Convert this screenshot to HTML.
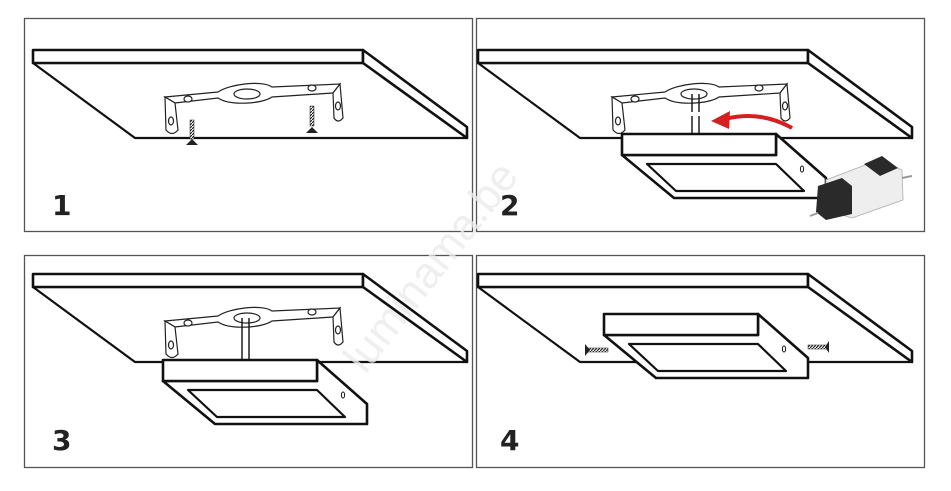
<!DOCTYPE html>
<html><head><meta charset="utf-8"><style>
html,body{margin:0;padding:0;background:#fff;width:951px;height:491px;overflow:hidden}
svg{display:block}
.n{font-family:"DejaVu Sans","Liberation Sans",sans-serif;font-size:28px;font-weight:bold;fill:#222}
</style></head><body>
<svg width="951" height="491" viewBox="0 0 951 491" xmlns="http://www.w3.org/2000/svg">
<defs>
<pattern id="th" width="3" height="3" patternUnits="userSpaceOnUse"><rect width="3" height="3" fill="#fff"/><line x1="0" y1="3" x2="3" y2="0" stroke="#222" stroke-width="1.2"/></pattern>
<g id="slab" fill="#fff" stroke="#111" stroke-width="2.6" stroke-linejoin="round">
  <path d="M33 63 L135 138 L467 138 L363 63 Z" stroke-width="2.2"/>
  <rect x="33" y="50" width="330" height="13"/>
  <path d="M363 50 L467 127 L467 138 L363 63 Z"/>
</g>
<g id="brk" fill="#fff" stroke="#222" stroke-width="1.2">
  <path d="M165 97 L218 92 C230 84 262 80 272 87 L340 84 L333 93 L272 97 C262 104 230 106 218 98 L175 103 Z"/>
  <ellipse cx="247" cy="94" rx="13" ry="5"/>
  <ellipse cx="188" cy="99" rx="4" ry="3"/>
  <ellipse cx="312" cy="88" rx="4" ry="3"/>
  <path d="M165 97 L166 130 Q172 137 178 130 L175 103 Z"/>
  <ellipse cx="171" cy="121" rx="2.5" ry="4"/>
  <path d="M340 84 L343 118 Q338 124 334 118 L333 93 Z"/>
  <ellipse cx="338" cy="106" rx="2.5" ry="4"/>
</g>
<g id="lum" fill="#fff" stroke="#111" stroke-width="2.6" stroke-linejoin="round">
  <path d="M0 21 L52 64 L204 64 L204 44 L154 0 L154 21 Z"/>
  <path d="M25 30 L154 30 L182 57 L54 57 Z" stroke-width="2.2"/>
  <rect x="0" y="0" width="154" height="21"/>
  <ellipse cx="180" cy="35" rx="1.6" ry="3" stroke-width="1"/>
</g>
</defs>
<g fill="none" stroke="#555" stroke-width="1.3">
  <rect x="24.5" y="18.5" width="448" height="213"/>
  <rect x="476.5" y="18.5" width="448" height="213"/>
  <rect x="24.5" y="255.5" width="448" height="212"/>
  <rect x="476.5" y="255.5" width="448" height="212"/>
</g>
<!-- panel 1 -->
<use href="#slab"/>
<use href="#brk"/>
<rect x="190" y="120" width="4" height="19" fill="url(#th)" stroke="#222" stroke-width="0.5"/>
<rect x="310" y="106" width="4" height="20" fill="url(#th)" stroke="#222" stroke-width="0.5"/>
<path d="M186 145 L198 145 L192 139 Z M306 133 L318 133 L312 127 Z" fill="#222"/>
<text class="n" x="52" y="215">1</text>
<!-- panel 2 -->
<use href="#slab" x="445"/>
<use href="#brk" x="447"/>
<g stroke="#111" stroke-width="1.4"><line x1="692" y1="94" x2="692" y2="134"/><line x1="699" y1="94" x2="699" y2="134"/></g>
<rect x="688" y="112" width="14" height="4" fill="#fff"/>
<use href="#lum" x="622" y="134"/>
<path d="M792 128 Q760 110 725 119" fill="none" stroke="#d42020" stroke-width="4"/>
<path d="M711 121 L730 111 L729 129 Z" fill="#d42020"/>
<g>
  <path d="M826 180 L878 160 L902 170 L903 200 L852 218 L826 210 Z" fill="#eee" stroke="#bbb"/>
  <path d="M864 164 L882 156 L898 168 L880 176 Z" fill="#2a2a2a"/>
  <path d="M818 186 L842 178 L852 186 L852 214 L826 220 L816 212 Z" fill="#2a2a2a"/>
  <line x1="902" y1="178" x2="912" y2="176" stroke="#999" stroke-width="2"/>
  <line x1="818" y1="213" x2="810" y2="216" stroke="#999" stroke-width="2"/>
</g>
<text class="n" x="500" y="215">2</text>
<!-- panel 3 -->
<use href="#slab" y="224"/>
<use href="#brk" y="224"/>
<g stroke="#111" stroke-width="1.4"><line x1="242" y1="318" x2="242" y2="360"/><line x1="249" y1="318" x2="249" y2="360"/></g>
<use href="#lum" x="163" y="360"/>
<text class="n" x="52" y="450">3</text>
<!-- panel 4 -->
<use href="#slab" x="445" y="224"/>
<use href="#lum" x="604" y="314"/>
<rect x="588" y="348" width="20" height="4" fill="url(#th)" stroke="#222" stroke-width="0.5"/>
<rect x="808" y="345" width="19" height="4" fill="url(#th)" stroke="#222" stroke-width="0.5"/>
<path d="M585 344 L585 356 L590 350 Z M829 341 L829 353 L825 347 Z" fill="#222"/>
<text class="n" x="500" y="450">4</text>
<text x="0" y="0" transform="translate(365,375) rotate(-52)" font-family="Liberation Sans, sans-serif" font-size="44" fill="#ececec" opacity="0.8">luminama.be</text>
</svg>
</body></html>
